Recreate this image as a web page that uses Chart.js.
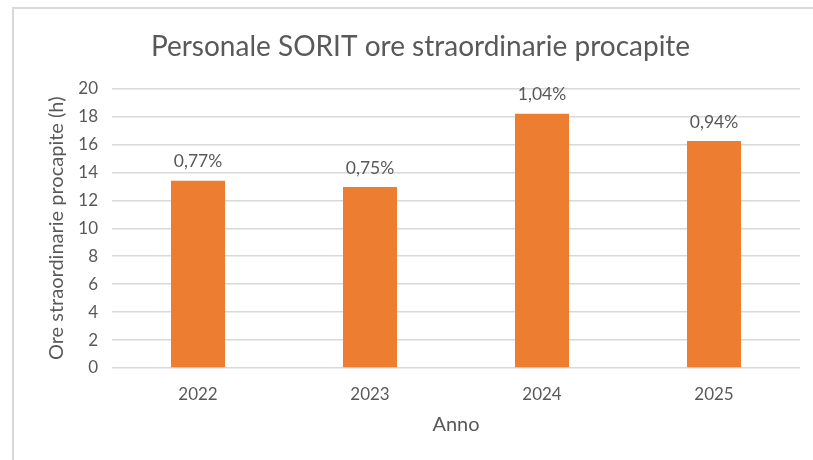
<!DOCTYPE html>
<html>
<head>
<meta charset="utf-8">
<script src="https://cdn.jsdelivr.net/npm/chart.js@4"></script>
<style>
  html, body { margin: 0; padding: 0; background: #ffffff; }
  #wrap { position: relative; width: 813px; height: 460px; overflow: hidden; }
  #frame { position: absolute; left: 12px; top: 7px; width: 820px; height: 470px;
           border-top: 2px solid #d9d9d9; border-left: 2px solid #d9d9d9; box-sizing: border-box; }
  #c { position: absolute; left: 0; top: 0; }
</style>
</head>
<body>
<div id="wrap">
  <div id="frame"></div>
  <canvas id="c" width="813" height="460"></canvas>
</div>
<script>
const categories = ["2022", "2023", "2024", "2025"];
const oreProcapite = [13.4, 12.95, 18.2, 16.25];
const percentLabels = ["0,77%", "0,75%", "1,04%", "0,94%"];
const yTicks = [0, 2, 4, 6, 8, 10, 12, 14, 16, 18, 20];

const FONT = "Lato, 'Open Sans', sans-serif";
const TXT = "#595959";

const barLabels = {
  id: 'barLabels',
  afterDatasetsDraw(chart) {
    const ctx = chart.ctx;
    const meta = chart.getDatasetMeta(0);
    ctx.save();
    ctx.font = "17.5px " + FONT;
    ctx.fillStyle = TXT;
    ctx.textAlign = 'center';
    ctx.textBaseline = 'middle';
    meta.data.forEach((bar, i) => {
      ctx.fillText(percentLabels[i], bar.x, bar.y - 19);
    });
    ctx.restore();
  }
};

new Chart(document.getElementById('c'), {
  type: 'bar',
  data: {
    labels: categories,
    datasets: [{
      data: oreProcapite,
      backgroundColor: '#ED7D31',
      categoryPercentage: 1.0,
      barPercentage: 0.314
    }]
  },
  options: {
    responsive: false,
    animation: false,
    devicePixelRatio: 1,
    layout: { padding: { left: 41, right: 13, top: 0, bottom: 19 } },
    plugins: {
      legend: { display: false },
      tooltip: { enabled: false },
      title: {
        display: true,
        text: 'Personale SORIT ore straordinarie procapite',
        color: TXT,
        font: { family: FONT, size: 28, weight: 'normal', lineHeight: 1.2 },
        padding: { top: 30, bottom: 25 }
      }
    },
    scales: {
      x: {
        grid: { display: false, drawTicks: false },
        border: { display: false },
        ticks: { color: TXT, font: { family: FONT, size: 17 }, padding: 16 },
        title: { display: true, text: 'Anno', color: TXT, font: { family: FONT, size: 20 }, padding: { top: 4, bottom: 4 } },
        afterFit(scale) { scale.height = 73; }
      },
      y: {
        min: 0, max: 20,
        afterBuildTicks(scale) { scale.ticks = yTicks.map(v => ({ value: v })); },
        grid: { color: '#d9d9d9', lineWidth: 1.5, drawTicks: false },
        border: { display: false },
        ticks: { color: TXT, font: { family: FONT, size: 17 }, padding: 14 },
        title: { display: true, text: 'Ore straordinarie procapite (h)', color: TXT, font: { family: FONT, size: 20 }, padding: { top: 4, bottom: 4 } },
        afterFit(scale) { scale.width = 71; }
      }
    }
  },
  plugins: [barLabels]
});
</script>
</body>
</html>
